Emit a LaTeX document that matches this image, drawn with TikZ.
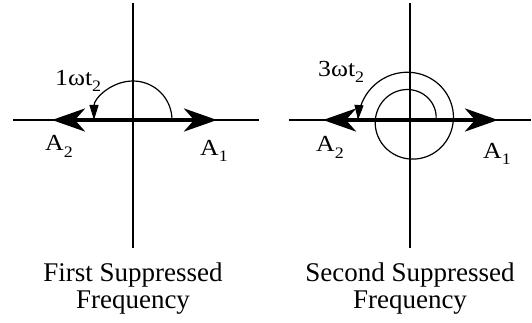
\documentclass[tikz,border=0pt]{standalone}
\usepackage{fontspec}
\setmainfont{Liberation Serif}
\usetikzlibrary{arrows.meta}
\newcommand\lowsub[1]{\raisebox{-6pt}{\fontsize{16}{16}\selectfont #1}}
\newcommand\widetxt[1]{\scalebox{1.12}[1]{#1}}
\begin{document}
\begin{tikzpicture}[x=1pt,y=-1pt,
  axis/.style={line width=1.4pt},
  vec/.style={line width=4pt,-{Stealth[length=33pt,width=23pt,inset=10pt]}},
  turn/.style={line width=1.2pt,-{Triangle[length=15pt,width=9pt]}},
  lab/.style={inner sep=0pt,anchor=base west,font=\fontsize{23}{23}\selectfont},
  capt/.style={inner sep=0pt,align=center,anchor=base,font=\fontsize{27}{27}\selectfont}]
\useasboundingbox (0,0) rectangle (532,323);
% left diagram
\coordinate (o1) at (133,120);
\coordinate (t1) at (133,3);
\coordinate (b1) at (133,248);
\coordinate (l1) at (13,120);
\coordinate (r1) at (259,120);
\coordinate (p1) at (217,120);
\coordinate (q1) at (52,120);
\coordinate (s1) at (172,120);
\draw[axis] (t1) -- (b1);
\draw[axis] (l1) -- (r1);
\draw[vec] (o1) -- (p1);
\draw[vec] (o1) -- (q1);
\draw[turn] (s1) arc[start angle=0,end angle=-180,radius=39];
\node[lab] (w1) at (55,86) {\widetxt{1ωt\lowsub{2}}};
\node[lab] (a2l) at (45,151) {\widetxt{A\lowsub{2}}};
\node[lab] (a1l) at (200,156) {\widetxt{A\lowsub{1}}};
\node[capt] (c1) at (133,308) {First Suppressed\\Frequency};
% right diagram
\coordinate (o2) at (410,120);
\coordinate (t2) at (410,3);
\coordinate (b2) at (410,248);
\coordinate (l2) at (289,120);
\coordinate (r2) at (531,120);
\coordinate (p2) at (498,120);
\coordinate (q2) at (323,120);
\draw[axis] (t2) -- (b2);
\draw[axis] (l2) -- (r2);
\draw[vec] (o2) -- (p2);
\draw[vec] (o2) -- (q2);
\draw[turn] plot[domain=0:540,samples=240,smooth]
  ({410+(26+26*\x/540)*cos(\x)},{120-(26+26*\x/540)*sin(\x)});
\node[lab] (w2) at (318,77) {\widetxt{3ωt\lowsub{2}}};
\node[lab] (a2r) at (316,152) {\widetxt{A\lowsub{2}}};
\node[lab] (a1r) at (483,158) {\widetxt{A\lowsub{1}}};
\node[capt] (c2) at (410,308) {Second Suppressed\\Frequency};
\end{tikzpicture}
\end{document}
